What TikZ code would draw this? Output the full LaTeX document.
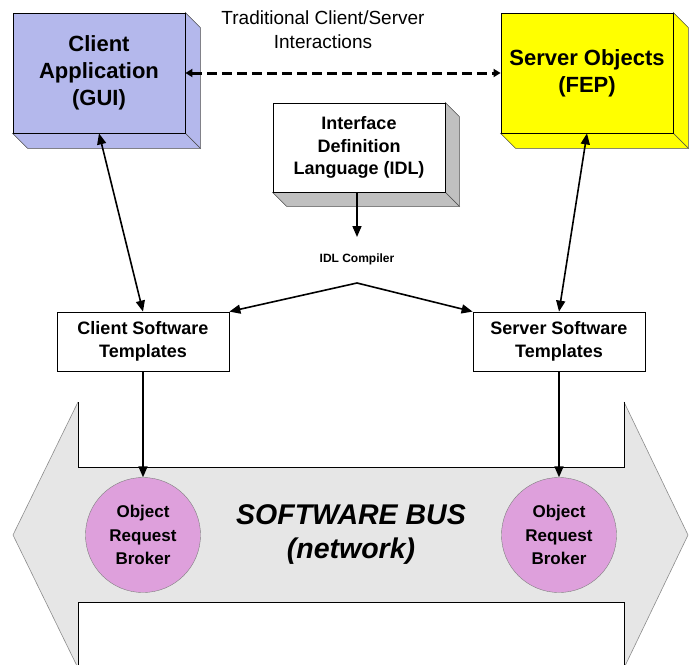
\documentclass[tikz,border=0pt]{standalone}
\usepackage{fontspec}
\setmainfont{Liberation Sans}
\usetikzlibrary{arrows.meta,calc,backgrounds}
\definecolor{guiblue}{RGB}{180,184,236}
\definecolor{fepyellow}{RGB}{255,255,0}
\definecolor{idlside}{RGB}{192,192,192}
\definecolor{orbpink}{RGB}{222,160,220}
\definecolor{busgray}{RGB}{230,230,230}
% side and bottom faces behind a front node
\newcommand\boxsides[3]{%
 \begin{scope}[on background layer]
 \filldraw[fill=#2, draw=black!70, line width=0.6pt] (#1.north east) -- ++(#3,#3) -- ($(#1.south east)+(#3,#3)$) -- (#1.south east) -- cycle;
 \filldraw[fill=#2, draw=black!70, line width=0.6pt] (#1.south west) -- ($(#1.south west)+(#3,#3)$) -- ($(#1.south east)+(#3,#3)$) -- (#1.south east) -- cycle;
 \end{scope}}
\begin{document}
\begin{tikzpicture}[x=1pt,y=-1pt,
 front/.style={draw=black, line width=0.8pt, align=center, inner sep=0pt, minimum width=172},
 tmpl/.style={draw=black, line width=0.8pt, fill=white, align=center, inner sep=0pt, minimum width=172, minimum height=59, font=\fontsize{18}{23}\selectfont\bfseries},
 orb/.style={circle, draw=black!50, fill=orbpink, minimum size=115, inner sep=0pt, align=center, font=\fontsize{17}{23.5}\selectfont\bfseries},
 arr/.style={line width=1.6pt, -{Triangle[length=11pt,width=9pt]}},
 twoway/.style={line width=1.6pt, {Triangle[length=11pt,width=9pt]}-{Triangle[length=11pt,width=9pt]}}]
 \useasboundingbox (0,0) rectangle (696,664);
 \clip (0,0) rectangle (696,664);

 % software bus
 \fill[busgray] (13,535) -- (78,402) -- (78,467) -- (624,467) -- (624,402) -- (688,535) -- (624,668) -- (624,602) -- (78,602) -- (78,668) -- cycle;
 \draw[black!45, line width=0.6pt] (78,402) -- (13,535) -- (78,668) (624,402) -- (688,535) -- (624,668);
 \draw[line width=0.8pt] (78,402) -- (78,467) -- (624,467) -- (624,402) (78,668) -- (78,602) -- (624,602) -- (624,668);
 \node[font=\fontsize{28.5}{34}\selectfont\bfseries\itshape, align=center] (bus) at (351,534) {SOFTWARE BUS\\(network)};

 % boxes
 \node[front, fill=guiblue, minimum height=120, font=\fontsize{22}{27}\selectfont\bfseries] (client) at (99,73) {Client\\Application\\(GUI)};
 \boxsides{client}{guiblue}{15}
 \node[front, fill=fepyellow, minimum height=120, font=\fontsize{22}{27}\selectfont\bfseries] (server) at (587,73) {Server Objects\\(FEP)};
 \boxsides{server}{fepyellow}{15}
 \node[front, fill=white, minimum height=89, font=\fontsize{18}{22.5}\selectfont\bfseries] (idl) at (359,147.5) {Interface\\Definition\\Language (IDL)};
 \boxsides{idl}{idlside}{14}

 \node[font=\fontsize{19}{24}\selectfont, align=center] (trad) at (323,30) {Traditional Client/Server\\Interactions};
 \node[font=\fontsize{12}{14}\selectfont\bfseries] (compiler) at (357,259) {IDL Compiler};
 \coordinate (cin) at (357,237);
 \coordinate (fork) at (357,283);

 \node[tmpl] (cst) at (143,341.5) {Client Software\\Templates};
 \node[tmpl] (sst) at (559,341.5) {Server Software\\Templates};
 \node[orb] (orbl) at (143,535) {Object\\Request\\Broker};
 \node[orb] (orbr) at (559,535) {Object\\Request\\Broker};

 % connectors
 \draw[line width=3pt, dash pattern=on 10pt off 5pt, {Triangle[length=7pt,width=8pt]}-{Triangle[length=7pt,width=8pt]}] (client.east) -- (server.west);
 \draw[arr] (idl.south -| cin) -- (cin);
 \draw[arr] (fork) -- (cst.north east);
 \draw[arr] (fork) -- (sst.north west);
 \draw[twoway] (client.south) -- (cst.north);
 \draw[twoway] (server.south) -- (sst.north);
 \draw[arr] (cst.south) -- (orbl.north);
 \draw[arr] (sst.south) -- (orbr.north);
\end{tikzpicture}
\end{document}
